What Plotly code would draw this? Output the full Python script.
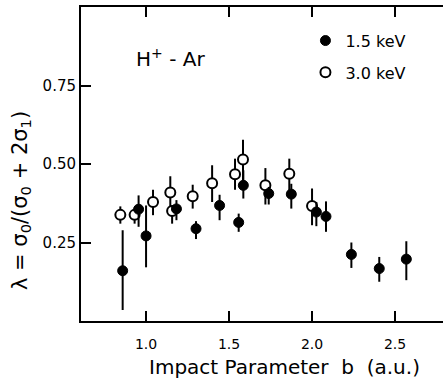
import plotly.graph_objects as go

# 1.5 keV (filled circles)
b_15 = [0.859, 0.955, 1.000, 1.183, 1.301, 1.443, 1.558, 1.586, 1.739, 1.875, 2.026, 2.084, 2.237, 2.405, 2.568]
lam_15 = [0.160, 0.356, 0.271, 0.357, 0.294, 0.368, 0.314, 0.432, 0.406, 0.404, 0.347, 0.333, 0.212, 0.167, 0.197]
lam_15_hi = [0.289, 0.400, 0.368, 0.385, 0.318, 0.402, 0.342, 0.480, 0.427, 0.437, 0.379, 0.381, 0.250, 0.204, 0.254]
lam_15_lo = [0.035, 0.300, 0.171, 0.321, 0.261, 0.321, 0.284, 0.390, 0.371, 0.358, 0.302, 0.284, 0.169, 0.125, 0.130]

# 3.0 keV (open circles)
b_30 = [0.845, 0.931, 1.042, 1.146, 1.157, 1.281, 1.398, 1.536, 1.584, 1.719, 1.863, 2.000]
lam_30 = [0.338, 0.338, 0.379, 0.409, 0.350, 0.397, 0.439, 0.467, 0.514, 0.432, 0.469, 0.366]
lam_30_hi = [0.365, 0.353, 0.418, 0.461, 0.368, 0.434, 0.496, 0.517, 0.577, 0.487, 0.517, 0.422]
lam_30_lo = [0.310, 0.310, 0.337, 0.337, 0.310, 0.358, 0.379, 0.418, 0.430, 0.371, 0.416, 0.305]

y_ticks = [0.25, 0.50, 0.75]
y_tick_text = ["0.25", "0.50", "0.75"]
x_ticks = [1.0, 1.5, 2.0, 2.5]
x_tick_text = ["1.0", "1.5", "2.0", "2.5"]

FONT = "DejaVu Sans"

def up(v, hi):
    return [h - a for a, h in zip(v, hi)]

def dn(v, lo):
    return [a - l for a, l in zip(v, lo)]

fig = go.Figure()
fig.add_trace(go.Scatter(
    x=b_30, y=lam_30, mode="markers", name="3.0 keV", legendrank=2,
    legendgroup="b",
    marker=dict(symbol="circle", size=10, color="white", line=dict(color="black", width=2)),
    error_y=dict(type="data", symmetric=False, array=up(lam_30, lam_30_hi),
                 arrayminus=dn(lam_30, lam_30_lo), thickness=2, width=0, color="black"),
))
fig.add_trace(go.Scatter(
    x=b_15, y=lam_15, mode="markers", name="1.5 keV", legendrank=1,
    legendgroup="a",
    marker=dict(symbol="circle", size=10, color="black", line=dict(color="black", width=1)),
    error_y=dict(type="data", symmetric=False, array=up(lam_15, lam_15_hi),
                 arrayminus=dn(lam_15, lam_15_lo), thickness=2, width=0, color="black"),
))

fig.update_layout(
    width=443, height=381,
    margin=dict(l=81, r=0, t=7, b=60),
    paper_bgcolor="white", plot_bgcolor="white",
    font=dict(family=FONT, color="black"),
    showlegend=True,
    legend=dict(x=0.62, y=0.947, xanchor="left", yanchor="top",
                font=dict(size=16, family=FONT), bgcolor="rgba(0,0,0,0)",
                traceorder="grouped", tracegroupgap=8),
    xaxis=dict(range=[0.608, 2.789], tickvals=x_ticks, ticktext=x_tick_text,
               ticks="inside", ticklen=10, tickwidth=2, tickcolor="black",
               showline=True, linewidth=2, linecolor="black", mirror="ticks",
               showgrid=False, zeroline=False, tickfont=dict(size=14),
               ticklabelstandoff=9),
    yaxis=dict(range=[0, 1], tickvals=y_ticks, ticktext=y_tick_text,
               ticks="inside", ticklen=10, tickwidth=2, tickcolor="black",
               showline=True, linewidth=2, linecolor="black", mirror=False,
               showgrid=False, zeroline=False, tickfont=dict(size=15)),
    yaxis2=dict(range=[0, 1], overlaying="y", side="right", anchor="x",
                tickvals=y_ticks, ticks="inside", ticklen=10, tickwidth=2,
                tickcolor="black", showticklabels=False, showline=False,
                showgrid=False, zeroline=False),
    annotations=[
        dict(text="H<sup>+</sup> - Ar", xref="paper", yref="paper", x=0.246, y=0.838,
             xanchor="center", yanchor="middle",
             showarrow=False, font=dict(size=20, family=FONT)),
        dict(text="Impact Parameter  b  (a.u.)", xref="paper", yref="paper", x=0.561, y=-0.1465,
             xanchor="center", yanchor="middle",
             showarrow=False, font=dict(size=20, family=FONT)),
        dict(text="λ = σ<sub>0</sub>/(σ<sub>0</sub> + 2σ<sub>1</sub>)", xref="paper", yref="paper",
             x=-0.166, y=0.385, xanchor="center", yanchor="middle", textangle=-90,
             showarrow=False, font=dict(size=21, family=FONT)),
    ],
)

fig.write_html("out.html", post_script="document.body.style.margin='0';",
               config={"displayModeBar": False})
